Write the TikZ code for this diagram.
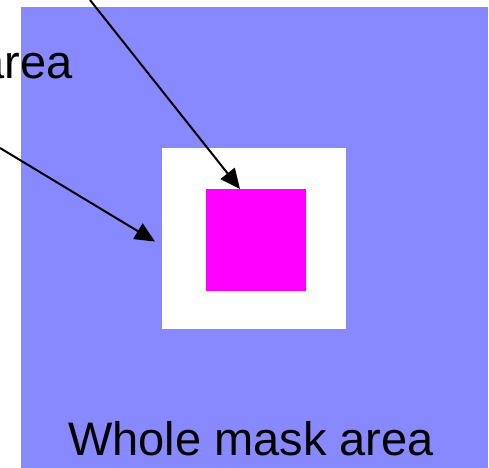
\documentclass[tikz,border=0pt]{standalone}
\usepackage{fontspec}
\setmainfont{Liberation Sans}
\usetikzlibrary{arrows.meta}
\definecolor{maskblue}{RGB}{136,136,255}
\definecolor{holepink}{RGB}{255,0,255}
\tikzset{
  region/.style={draw=none,inner sep=0pt,outer sep=0pt},
  pointer/.style={line width=2pt,-{Triangle[length=20pt,width=18pt]}},
  bigtext/.style={font=\fontsize{47}{56}\selectfont,inner sep=0pt}
}
\begin{document}
\begin{tikzpicture}[x=1pt,y=-1pt]
\useasboundingbox (0,0) rectangle (489,467);
\fill[white] (0,0) rectangle (489,467);
\node[region,fill=maskblue,minimum width=467pt,minimum height=462pt,anchor=north west] (whole) at (21,7) {};
\node[region,fill=white,minimum width=184pt,minimum height=181pt,anchor=north west] (ring) at (162,148) {};
\node[region,fill=holepink,minimum width=100pt,minimum height=102pt,anchor=north west] (inner) at (206,189) {};
\node[bigtext,anchor=base] (wlabel) at (251,455) {Whole mask area};
\node[bigtext,anchor=base east] (alabel) at (73,78) {area};
\coordinate (s1) at (90,0);
\coordinate (s2) at (0,148);
\draw[pointer] (s1) -- ([xshift=-16pt]inner.north);
\draw[pointer] (s2) -- ([xshift=-7pt,yshift=-3pt]ring.west);
\end{tikzpicture}
\end{document}
